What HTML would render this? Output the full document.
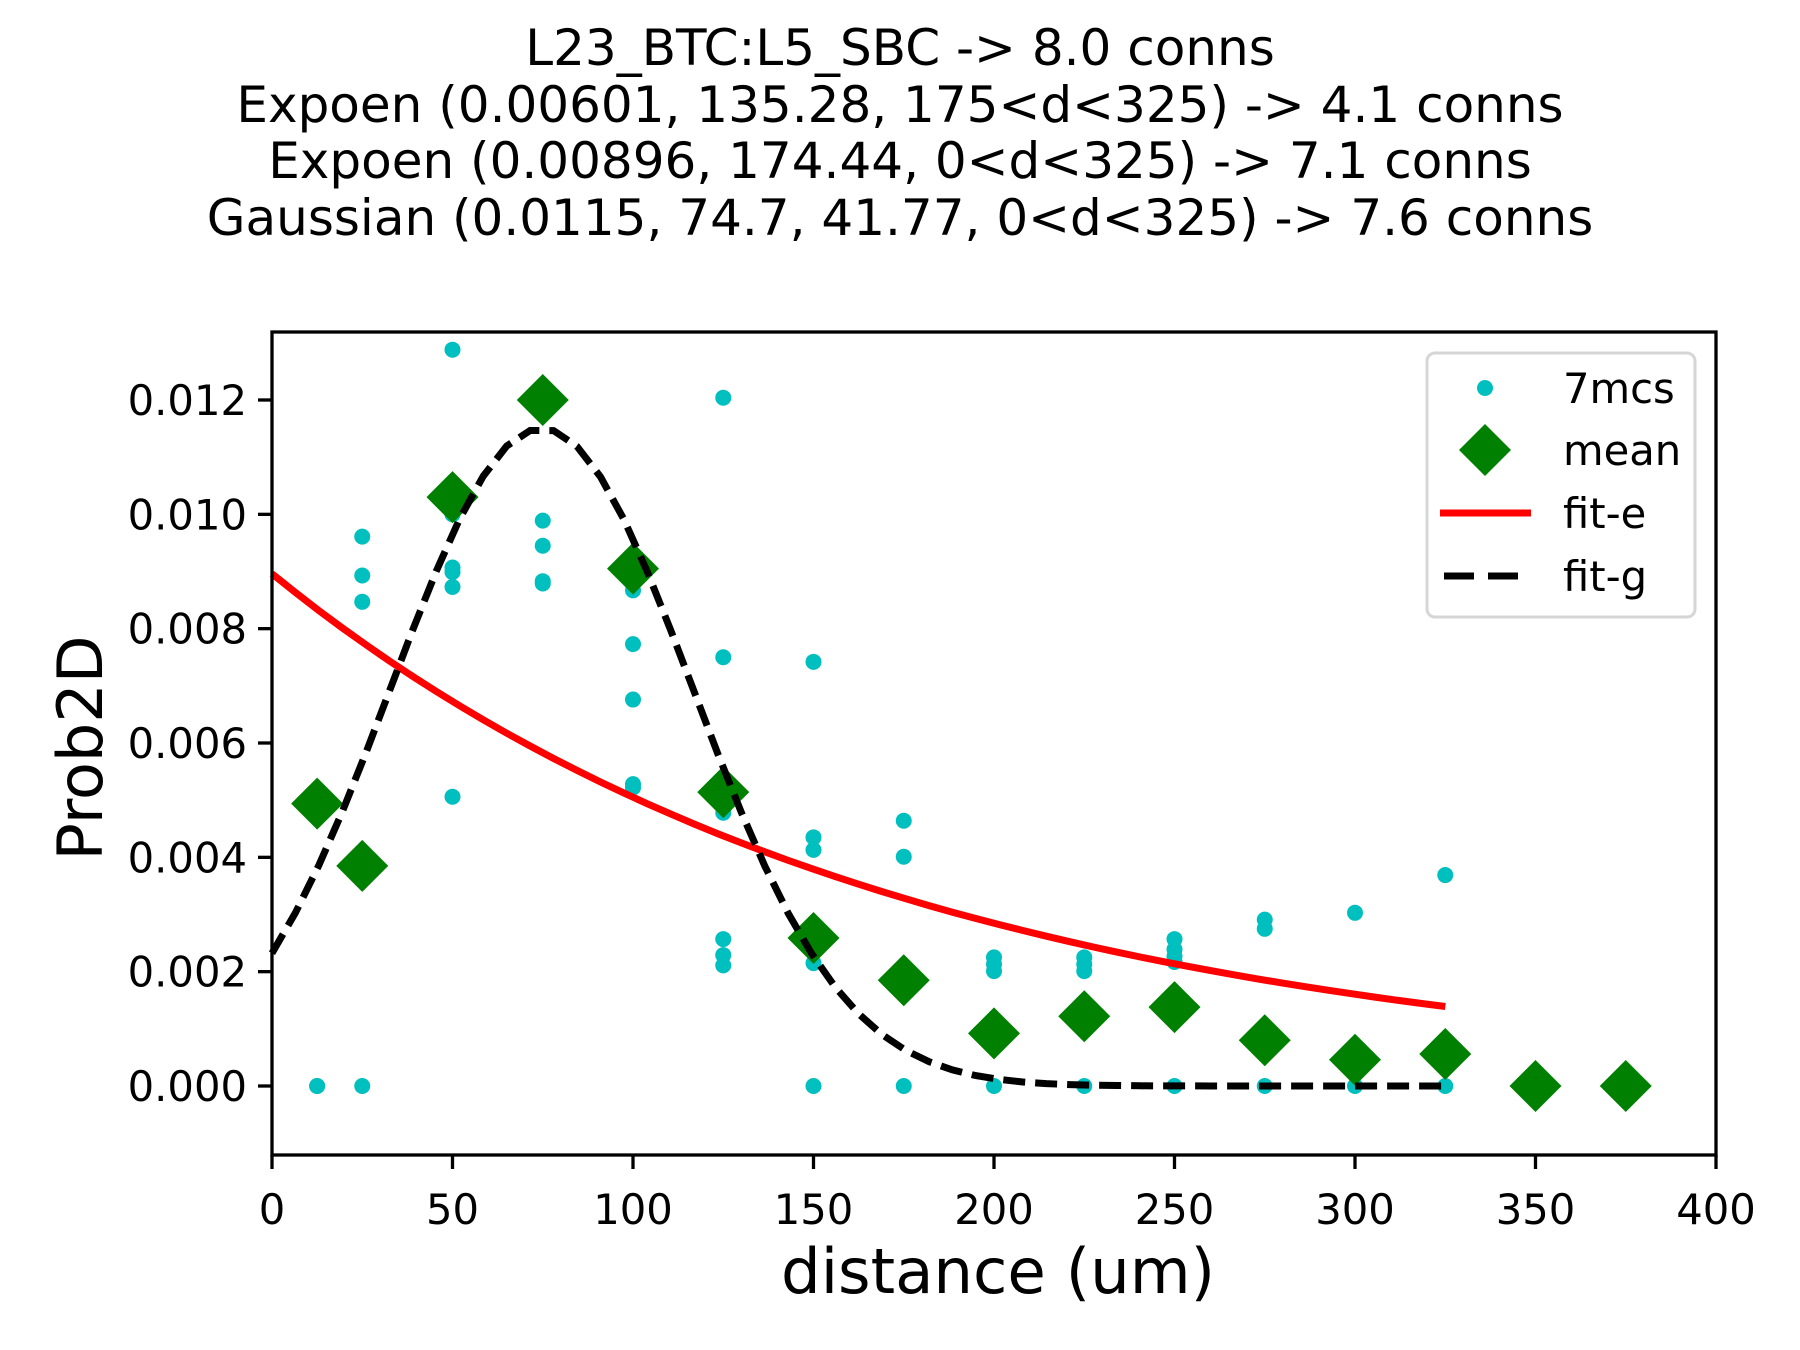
<!DOCTYPE html>
<html><head><meta charset="utf-8"><style>
html,body{margin:0;padding:0;background:#fff;}
svg{display:block;font-family:"DejaVu Sans","Liberation Sans",sans-serif;}
</style></head><body>
<svg id="chart" width="1800" height="1350" viewBox="0 0 1800 1350" xmlns="http://www.w3.org/2000/svg">
<rect width="1800" height="1350" fill="#fff"/>
<g font-size="50" text-anchor="middle" fill="#000">
<text x="900" y="65">L23_BTC:L5_SBC -&gt; 8.0 conns</text>
<text x="900" y="122">Expoen (0.00601, 135.28, 175&lt;d&lt;325) -&gt; 4.1 conns</text>
<text x="900" y="178">Expoen (0.00896, 174.44, 0&lt;d&lt;325) -&gt; 7.1 conns</text>
<text x="900" y="235">Gaussian (0.0115, 74.7, 41.77, 0&lt;d&lt;325) -&gt; 7.6 conns</text>
</g>
<g id="plot"></g>
<g id="axes"></g>
<text x="998" y="1293" font-size="62.5" text-anchor="middle">distance (um)</text>
<text transform="translate(102,748) rotate(-90)" font-size="62" text-anchor="middle">Prob2D</text>
<g>
<rect x="1427" y="353" width="268" height="264" rx="8" fill="#fff" stroke="#d6d6d6" stroke-width="3"/>
<g><circle cx="1485" cy="388" r="8" fill="#00bfbf"/><text x="1563" y="403" font-size="41.7">7mcs</text></g>
<g><polygon points="1485,424 1511,450 1485,476 1459,450" fill="#008000"/><text x="1563" y="465" font-size="41.7">mean</text></g>
<g><line x1="1440" y1="513" x2="1531" y2="513" stroke="#f00" stroke-width="7"/><text x="1563" y="528" font-size="41.7">fit-e</text></g>
<g><line x1="1444" y1="576" x2="1531" y2="576" stroke="#000" stroke-width="7" stroke-dasharray="30,14"/><text x="1563" y="591" font-size="41.7">fit-g</text></g>
</g>
</svg>
<script>
const xTicks=[0,50,100,150,200,250,300,350,400];
const yTicks=[0,0.002,0.004,0.006,0.008,0.010,0.012];
const yTickLabels=["0.000","0.002","0.004","0.006","0.008","0.010","0.012"];
const meanX=[12.5,25,50,75,100,125,150,175,200,225,250,275,300,325,350,375];
const meanY=[0.00494,0.00385,0.0103,0.0120,0.00905,0.00514,0.00259,0.00185,0.00092,0.00122,0.00138,0.0008,0.00046,0.00056,0,0];
const dotX=[12.5,12.5,25,25,25,25,50,50,50,50,50,50,75,75,75,75,100,100,100,100,100,125,125,125,125,125,125,150,150,150,150,150,175,175,175,200,200,200,200,225,225,225,225,250,250,250,250,250,275,275,275,300,300,325,325];
const dotY=[0,0,0.00961,0.00893,0.00847,0,0.01288,0.0100,0.00907,0.00899,0.00873,0.00506,0.00989,0.00945,0.00883,0.00879,0.00867,0.00773,0.00676,0.00528,0.00522,0.01204,0.0075,0.00478,0.00257,0.00229,0.00211,0.00742,0.00435,0.00413,0.00215,0,0.00464,0.00401,0,0.00225,0.00213,0.00201,0,0.00225,0.00213,0.00201,0,0.00257,0.00239,0.00227,0.00217,0,0.00291,0.00275,0,0.00303,0,0.00369,0];
const fitE=[0.00896,174.44,0,325];
const fitG=[0.0115,74.7,41.77,0,325];
const X0=272,X1=1716,Y0=1155,Y1=332;
const xmin=0,xmax=400;
const yZero=1086, yPer=57167;
function sx(v){return X0+(v-xmin)/(xmax-xmin)*(X1-X0);}
function sy(v){return yZero-v*yPer;}
const NS="http://www.w3.org/2000/svg";
function mk(t,a,p){const e=document.createElementNS(NS,t);for(const k in a)e.setAttribute(k,a[k]);p.appendChild(e);return e;}
const plot=document.getElementById('plot'),axes=document.getElementById('axes');
let pe=[],pg=[];
for(let d=fitE[2];d<=fitE[3]+0.01;d+=325/50){pe.push(sx(d).toFixed(1)+','+sy(fitE[0]*Math.exp(-d/fitE[1])).toFixed(1));}
for(let d=fitG[3];d<=fitG[4]+0.01;d+=325/50){pg.push(sx(d).toFixed(1)+','+sy(fitG[0]*Math.exp(-Math.pow(d-fitG[1],2)/(2*fitG[2]*fitG[2]))).toFixed(1));}
for(let i=0;i<dotX.length;i++){
 const c=mk('circle',{cx:sx(dotX[i]),cy:sy(dotY[i]),r:8,fill:'#00bfbf'},plot);
 
 
}
for(let i=0;i<meanX.length;i++){
 const x=sx(meanX[i]),y=sy(meanY[i]);
 const p=mk('polygon',{points:`${x},${y-26} ${x+26},${y} ${x},${y+26} ${x-26},${y}`,fill:'#008000'},plot);
 
 
}
const le=mk('polyline',{points:pe.join(' '),fill:'none',stroke:'#f00','stroke-width':7},plot);


const lg=mk('polyline',{points:pg.join(' '),fill:'none',stroke:'#000','stroke-width':7,'stroke-dasharray':'22,10'},plot);


const fr=mk('rect',{x:X0,y:Y1,width:X1-X0,height:Y0-Y1,fill:'none',stroke:'#000','stroke-width':3.3},axes);


xTicks.forEach(v=>{
 const x=sx(v);
 mk('line',{x1:x,y1:Y0,x2:x,y2:Y0+14,stroke:'#000','stroke-width':3.3},axes);
 const t=mk('text',{x:x,y:1224,'font-size':41.7,'text-anchor':'middle'},axes);
 t.textContent=v;
 
 
});
yTicks.forEach((v,i)=>{
 const y=sy(v);
 mk('line',{x1:X0-14,y1:y,x2:X0,y2:y,stroke:'#000','stroke-width':3.3},axes);
 const t=mk('text',{x:X0-25,y:y+15,'font-size':41.7,'text-anchor':'end'},axes);
 t.textContent=yTickLabels[i];
 
 
});
</script>
</body></html>
